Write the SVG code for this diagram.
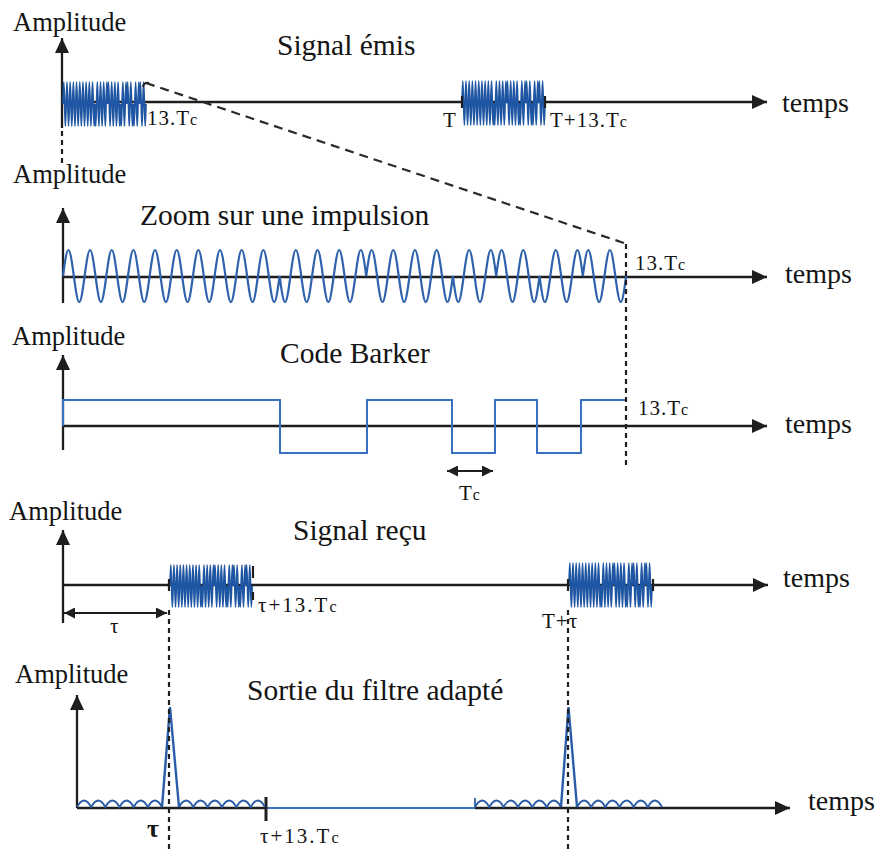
<svg xmlns="http://www.w3.org/2000/svg" xmlns:xlink="http://www.w3.org/1999/xlink" width="877" height="853" viewBox="0 0 877 853" font-family="Liberation Serif, serif">
  <style>
    text { font-family: 'Liberation Serif', 'Times New Roman', serif; fill: #141414; }
    .lab { font-size: 26.5px; }
    .title { font-size: 29.5px; }
    .t { font-size: 28px; }
    .small { font-size: 21px; letter-spacing: 1px; }
    .sub { font-size: 16px; }
    .axis { stroke: #1e1e1e; stroke-width: 2.3; fill: none; }
    .axisArrow { stroke: #1e1e1e; stroke-width: 2.3; fill: none; marker-end: url(#head); }
    .dash { stroke: #1e1e1e; stroke-width: 2.2; fill: none; stroke-dasharray: 5 4; }
    .slant { stroke: #2a2a2a; stroke-width: 2.2; fill: none; stroke-dasharray: 9 6; }
    .dbl { stroke: #1e1e1e; stroke-width: 2.2; fill: none; marker-start: url(#headSmall); marker-end: url(#headSmall); }
    .burst { stroke: #1f56a3; stroke-width: 1.7; fill: none; }
    .wave { stroke: #2f62ad; stroke-width: 2.2; fill: none; }
    .code { stroke: #3a70c2; stroke-width: 2; fill: none; }
    .mf { stroke: #2a5da8; stroke-width: 1.8; fill: none; }
    .peak { stroke: #2a5da8; stroke-width: 2.4; fill: none; stroke-linejoin: miter; }
    .tick { stroke: #1e1e1e; stroke-width: 2.2; }
  </style>
  <defs>
    <marker id="head" markerUnits="userSpaceOnUse" markerWidth="16" markerHeight="14" refX="15" refY="7" orient="auto">
      <path d="M0,0 L15,7 L0,14 z" fill="#1e1e1e"/>
    </marker>
    <marker id="headSmall" markerUnits="userSpaceOnUse" markerWidth="12" markerHeight="11" refX="11" refY="5.5" orient="auto-start-reverse">
      <path d="M0,0 L11,5.5 L0,11 z" fill="#1e1e1e"/>
    </marker>
    <!-- carrier modulated by the 13-chip Barker code (+ + + + + - - + + - + - +), 2 cycles per chip, unit amplitude -->
    <path id="carrier" vector-effect="non-scaling-stroke" d="M0 0
      c.4244-1.3333 .5756-1.3333 1 0 c.4244 1.3333 .5756 1.3333 1 0 c.4244-1.3333 .5756-1.3333 1 0 c.4244 1.3333 .5756 1.3333 1 0
      c.4244-1.3333 .5756-1.3333 1 0 c.4244 1.3333 .5756 1.3333 1 0 c.4244-1.3333 .5756-1.3333 1 0 c.4244 1.3333 .5756 1.3333 1 0
      c.4244-1.3333 .5756-1.3333 1 0 c.4244 1.3333 .5756 1.3333 1 0 c.4244-1.3333 .5756-1.3333 1 0 c.4244 1.3333 .5756 1.3333 1 0
      c.4244-1.3333 .5756-1.3333 1 0 c.4244 1.3333 .5756 1.3333 1 0 c.4244-1.3333 .5756-1.3333 1 0 c.4244 1.3333 .5756 1.3333 1 0
      c.4244-1.3333 .5756-1.3333 1 0 c.4244 1.3333 .5756 1.3333 1 0 c.4244-1.3333 .5756-1.3333 1 0 c.4244 1.3333 .5756 1.3333 1 0
      c.4244 1.3333 .5756 1.3333 1 0 c.4244-1.3333 .5756-1.3333 1 0 c.4244 1.3333 .5756 1.3333 1 0 c.4244-1.3333 .5756-1.3333 1 0
      c.4244 1.3333 .5756 1.3333 1 0 c.4244-1.3333 .5756-1.3333 1 0 c.4244 1.3333 .5756 1.3333 1 0 c.4244-1.3333 .5756-1.3333 1 0
      c.4244-1.3333 .5756-1.3333 1 0 c.4244 1.3333 .5756 1.3333 1 0 c.4244-1.3333 .5756-1.3333 1 0 c.4244 1.3333 .5756 1.3333 1 0
      c.4244-1.3333 .5756-1.3333 1 0 c.4244 1.3333 .5756 1.3333 1 0 c.4244-1.3333 .5756-1.3333 1 0 c.4244 1.3333 .5756 1.3333 1 0
      c.4244 1.3333 .5756 1.3333 1 0 c.4244-1.3333 .5756-1.3333 1 0 c.4244 1.3333 .5756 1.3333 1 0 c.4244-1.3333 .5756-1.3333 1 0
      c.4244-1.3333 .5756-1.3333 1 0 c.4244 1.3333 .5756 1.3333 1 0 c.4244-1.3333 .5756-1.3333 1 0 c.4244 1.3333 .5756 1.3333 1 0
      c.4244 1.3333 .5756 1.3333 1 0 c.4244-1.3333 .5756-1.3333 1 0 c.4244 1.3333 .5756 1.3333 1 0 c.4244-1.3333 .5756-1.3333 1 0
      c.4244-1.3333 .5756-1.3333 1 0 c.4244 1.3333 .5756 1.3333 1 0 c.4244-1.3333 .5756-1.3333 1 0 c.4244 1.3333 .5756 1.3333 1 0"/>
  </defs>

  <rect width="877" height="853" fill="#ffffff"/>

  <!-- Panel 1: transmitted signal -->
  <g id="signal-emis">
    <text class="lab" x="13" y="31">Amplitude</text>
    <text class="title" x="277" y="55">Signal émis</text>
    <line class="axisArrow" x1="62" y1="128" x2="62" y2="38"/>
    <line class="axisArrow" x1="62" y1="102" x2="767" y2="102"/>
    <use xlink:href="#carrier" class="burst" transform="translate(63,104) scale(1.596,22)"/>
    <use xlink:href="#carrier" class="burst" transform="translate(462,103) scale(1.596,22)"/>
    <path d="M143,87 q1,-5 6,-4" stroke="#1e1e1e" stroke-width="2" fill="none"/>
    <line class="tick" x1="462" y1="96" x2="462" y2="108"/>
    <line class="tick" x1="545" y1="96" x2="545" y2="108"/>
    <text class="small" x="147" y="125">13.T<tspan class="sub">c</tspan></text>
    <text class="small" x="443" y="127">T</text>
    <text class="small" x="550" y="127">T+13.T<tspan class="sub">c</tspan></text>
    <text class="t" x="782" y="112">temps</text>
  </g>

  <!-- Panel 2: zoom on one pulse -->
  <g id="zoom-impulsion">
    <text class="lab" x="13" y="183">Amplitude</text>
    <text class="title" x="140" y="225">Zoom sur une impulsion</text>
    <line class="axisArrow" x1="63" y1="303" x2="63" y2="208"/>
    <line class="axisArrow" x1="63" y1="277" x2="767" y2="277"/>
    <use xlink:href="#carrier" class="wave" transform="translate(63,276) scale(10.83,26)"/>
    <text class="small" x="635" y="270">13.T<tspan class="sub">c</tspan></text>
    <text class="t" x="785" y="283">temps</text>
  </g>

  <!-- Panel 3: Barker code -->
  <g id="code-barker">
    <text class="lab" x="12" y="345">Amplitude</text>
    <text class="title" x="280" y="363">Code Barker</text>
    <line class="axisArrow" x1="63" y1="450" x2="63" y2="355"/>
    <line class="axisArrow" x1="63" y1="426" x2="767" y2="426"/>
    <path class="code" d="M63,426 V400 H280 V453 H367 V400 H452 V453 H495 V400 H537 V453 H581 V400 H626"/>
    <line class="dbl" x1="447" y1="471" x2="493" y2="471"/>
    <text class="small" x="459" y="500">T<tspan class="sub">c</tspan></text>
    <text class="small" x="638" y="415">13.T<tspan class="sub">c</tspan></text>
    <text class="t" x="785" y="433">temps</text>
  </g>

  <!-- Panel 4: received signal -->
  <g id="signal-recu">
    <text class="lab" x="9" y="520">Amplitude</text>
    <text class="title" x="293" y="540">Signal reçu</text>
    <line class="axisArrow" x1="63" y1="623" x2="63" y2="530"/>
    <line class="axisArrow" x1="63" y1="585" x2="768" y2="585"/>
    <use xlink:href="#carrier" class="burst" transform="translate(170,586) scale(1.58,21)"/>
    <use xlink:href="#carrier" class="burst" transform="translate(569,585) scale(1.596,22)"/>
    <line class="tick" x1="169" y1="579" x2="169" y2="591"/>
    <line class="tick" x1="253" y1="566" x2="253" y2="578"/>
    <line class="tick" x1="253" y1="592" x2="253" y2="600"/>
    <line class="tick" x1="568" y1="579" x2="568" y2="591"/>
    <line class="tick" x1="653" y1="579" x2="653" y2="591"/>
    <line class="dbl" x1="64" y1="613" x2="167" y2="613"/>
    <text class="small" x="110" y="633">τ</text>
    <text class="small" x="258" y="612" style="letter-spacing:2px">τ+13.T<tspan class="sub">c</tspan></text>
    <text class="small" x="542" y="628">T+τ</text>
    <text class="t" x="783" y="587">temps</text>
  </g>

  <!-- Panel 5: matched filter output -->
  <g id="sortie-filtre">
    <text class="lab" x="15" y="683">Amplitude</text>
    <text class="title" x="247" y="700">Sortie du filtre adapté</text>
    <line class="axisArrow" x1="77" y1="808" x2="77" y2="695"/>
    <line class="axis" x1="77" y1="808" x2="265" y2="808"/>
    <line stroke="#3a6fc0" stroke-width="2" x1="265" y1="808" x2="475" y2="808"/>
    <line class="axisArrow" x1="475" y1="808" x2="790" y2="808"/>
    <line stroke="#1e1e1e" stroke-width="3" x1="266" y1="797" x2="266" y2="821"/>
    <path class="mf" d="M77,807 q7.08-13 14.17 0 q7.08-13 14.17 0 q7.08-13 14.17 0 q7.08-13 14.17 0 q7.08-13 14.17 0 q7.08-13 14.17 0"/>
    <path class="peak" d="M162,807 L170,707 L179,807"/>
    <path class="mf" d="M179,807 q7.17-13 14.33 0 q7.17-13 14.33 0 q7.17-13 14.33 0 q7.17-13 14.33 0 q7.17-13 14.33 0 q7.17-13 14.33 0"/>
    <path class="mf" d="M475,798 V807 q7.17-13 14.33 0 q7.17-13 14.33 0 q7.17-13 14.33 0 q7.17-13 14.33 0 q7.17-13 14.33 0 q7.17-13 14.33 0"/>
    <path class="peak" d="M561,807 L568.5,707 L577,807"/>
    <path class="mf" d="M577,807 q7.08-13 14.17 0 q7.08-13 14.17 0 q7.08-13 14.17 0 q7.08-13 14.17 0 q7.08-13 14.17 0 q7.08-13 14.17 0"/>
    <text x="147" y="837" style="font-size:26px;font-weight:bold">τ</text>
    <text class="small" x="260" y="843" style="letter-spacing:2px">τ+13.T<tspan class="sub">c</tspan></text>
    <text class="t" x="808" y="810">temps</text>
  </g>

  <!-- Connectors: projection and alignment guides -->
  <g id="connectors">
    <line class="dash" x1="62" y1="131" x2="62" y2="166"/>
    <line class="slant" x1="146" y1="83" x2="624" y2="243"/>
    <line class="dash" x1="626" y1="244" x2="626" y2="467"/>
    <line class="dash" x1="169" y1="610" x2="169" y2="853"/>
    <line class="dash" x1="568" y1="610" x2="568" y2="853"/>
  </g>
</svg>
